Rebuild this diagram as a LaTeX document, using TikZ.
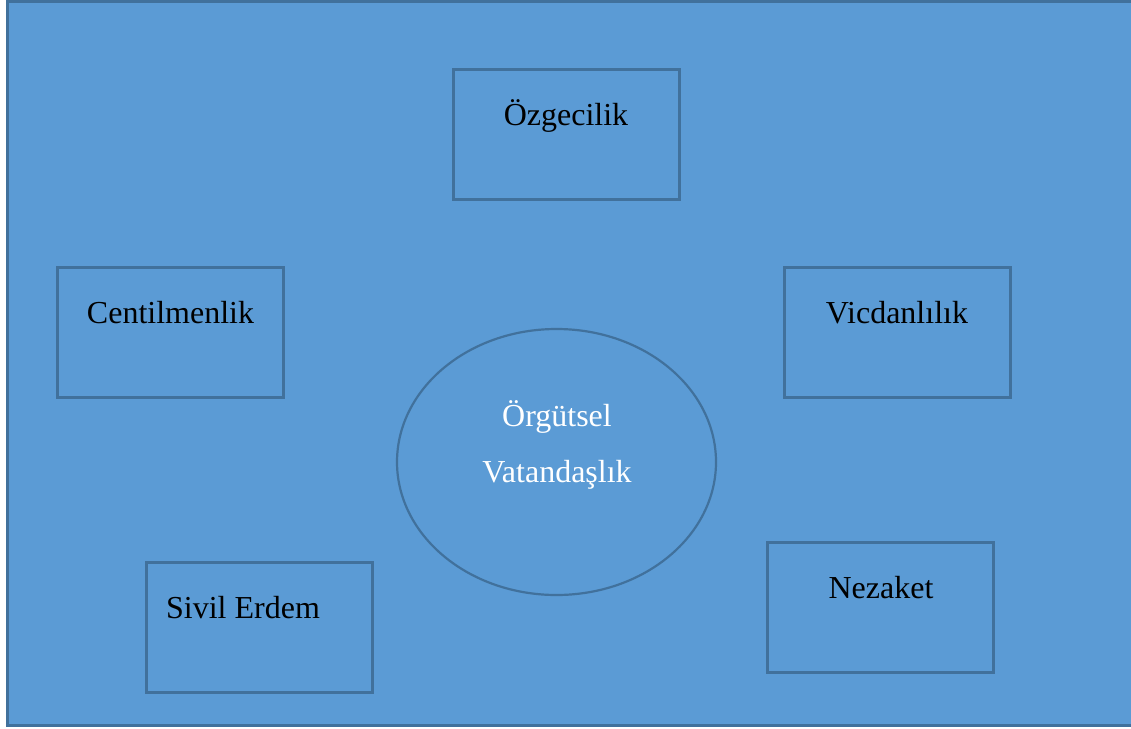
\documentclass[tikz,border=0pt]{standalone}
\usepackage{fontspec}
\setmainfont{Liberation Serif}
\usetikzlibrary{shapes.geometric}
\definecolor{bgblue}{HTML}{5B9BD5}
\definecolor{edgeblue}{HTML}{41719C}
\tikzset{
  box/.style={draw=edgeblue, line width=3pt, fill=bgblue, rectangle, inner sep=0pt, minimum width=226pt, minimum height=130pt},
  lbl/.style={anchor=base, inner sep=0pt, font=\fontsize{32}{38}\selectfont, text=black},
  wlbl/.style={lbl, text=white},
}
\begin{document}
\begin{tikzpicture}[x=1pt,y=-1pt]
\useasboundingbox (0,0) rectangle (1131,728);
\fill[white] (0,0) rectangle (1131,728);
\node[draw=edgeblue, line width=3pt, fill=bgblue, rectangle, inner sep=0pt, minimum width=1135pt, minimum height=724pt, anchor=north west] (frame) at (5.5,0) {};
\node[box] (ozg) at (566.5,134) {};
\node[lbl] (tozg) at (566,125) {Özgecilik};
\node[box] (cen) at (170.5,332) {};
\node[lbl] (tcen) at (170.5,323) {Centilmenlik};
\node[box] (vic) at (897,332) {};
\node[lbl] (tvic) at (897,323) {Vicdanlılık};
\node[box] (siv) at (259,627) {};
\node[lbl] (tsiv) at (243,618) {Sivil Erdem};
\node[box] (nez) at (880.5,607) {};
\node[lbl] (tnez) at (881,598) {Nezaket};
\node[draw=edgeblue, line width=2.2pt, ellipse, inner sep=0pt, minimum width=319pt, minimum height=266pt] (ov) at (556.5,462) {};
\node[wlbl] (tov1) at (557,426) {Örgütsel};
\node[wlbl] (tov2) at (557,482) {Vatandaşlık};
\end{tikzpicture}
\end{document}
